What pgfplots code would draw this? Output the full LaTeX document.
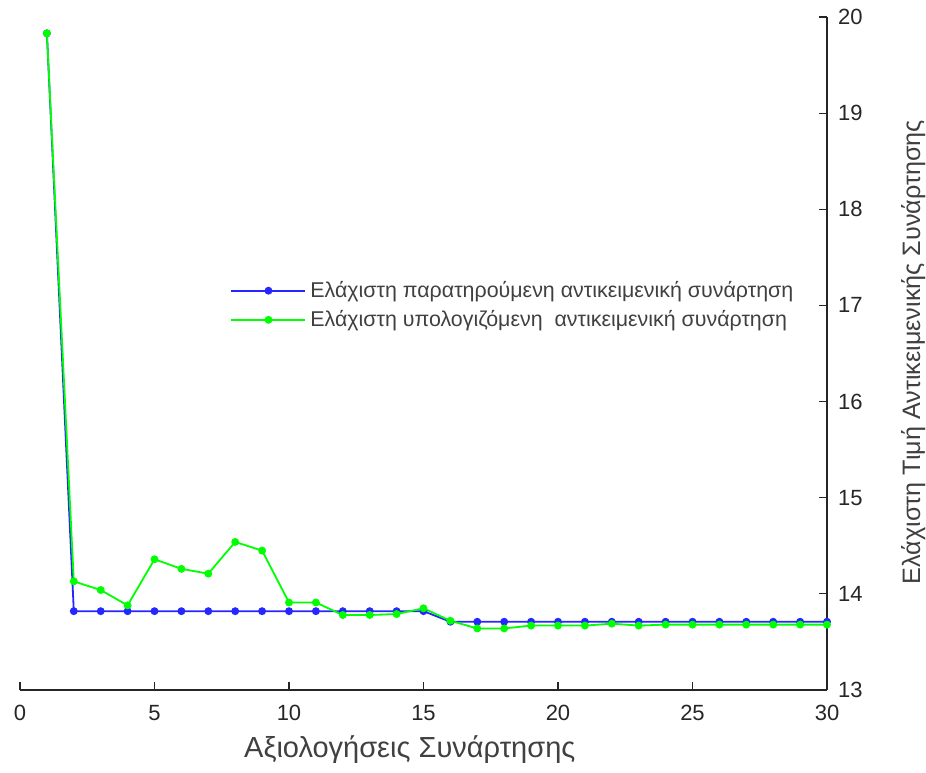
\documentclass[border=0pt]{standalone}
\usepackage{fontspec}
\setmainfont{Liberation Sans}
\usepackage{pgfplots}
\pgfplotsset{compat=1.18}
\definecolor{tickgray}{RGB}{38,38,38}
\definecolor{labgray}{RGB}{64,64,64}
\begin{document}
\begin{tikzpicture}
\useasboundingbox (-10pt,-41pt) rectangle (453pt,345pt);
\begin{axis}[
  at={(0,0)}, anchor=south west,
  scale only axis, width=403.5pt, height=336.5pt,
  xmin=0, xmax=30, ymin=13, ymax=20,
  axis x line=bottom, axis y line=right,
  axis line style={-, draw=tickgray, line width=0.6pt},
  tick align=inside, major tick length=4pt,
  tick style={draw=tickgray, line width=0.6pt},
  xtick={0,5,...,30}, ytick={13,14,...,20},
  /pgf/number format/assume math mode=true,
  ticklabel style={font=\fontsize{11}{13}\selectfont, text=tickgray},
  xticklabel style={yshift=-4pt},
  yticklabel style={xshift=2pt},
  every axis x label/.style={at={(axis description cs:0.483,0)}, anchor=center, yshift=-30pt, font=\fontsize{14.5}{16}\selectfont},
  every axis y label/.style={at={(axis description cs:1.107,0.502)}, anchor=center, rotate=90, font=\fontsize{12.6}{15}\selectfont},
  label style={text=labgray},
  xlabel={Αξιολογήσεις Συνάρτησης},
  ylabel={Ελάχιστη Τιμή Αντικειμενικής Συνάρτησης},
  legend style={at={(rel axis cs:0.253,0.62)}, anchor=north west, draw=none, fill=none,
    font=\fontsize{10.7}{13}\selectfont, text=labgray, row sep=1pt},
  legend image code/.code={
    \draw[#1, mark repeat=2, mark phase=2] plot coordinates {(0pt,0pt) (18.5pt,0pt) (37pt,0pt)};
  },
  legend cell align=left,
  clip=false,
]
\addplot[color=blue!85!white, line width=0.9pt, mark=*, mark size=1.5pt] coordinates {
(1,19.83) (2,13.82) (3,13.82) (4,13.82) (5,13.82) (6,13.82) (7,13.82) (8,13.82) (9,13.82) (10,13.82)
(11,13.82) (12,13.82) (13,13.82) (14,13.82) (15,13.82) (16,13.71) (17,13.71) (18,13.71) (19,13.71) (20,13.71)
(21,13.71) (22,13.71) (23,13.71) (24,13.71) (25,13.71) (26,13.71) (27,13.71) (28,13.71) (29,13.71) (30,13.71)
};
\addlegendentry{Ελάχιστη παρατηρούμενη αντικειμενική συνάρτηση}
\addplot[color=green, line width=0.9pt, mark=*, mark size=1.5pt] coordinates {
(1,19.83) (2,14.13) (3,14.04) (4,13.88) (5,14.36) (6,14.26) (7,14.21) (8,14.54) (9,14.45) (10,13.91)
(11,13.91) (12,13.78) (13,13.78) (14,13.79) (15,13.85) (16,13.72) (17,13.64) (18,13.64) (19,13.67) (20,13.67)
(21,13.67) (22,13.69) (23,13.67) (24,13.68) (25,13.68) (26,13.68) (27,13.68) (28,13.68) (29,13.68) (30,13.68)
};
\addlegendentry{Ελάχιστη υπολογιζόμενη\ \ αντικειμενική συνάρτηση}
\end{axis}
\end{tikzpicture}
\end{document}
